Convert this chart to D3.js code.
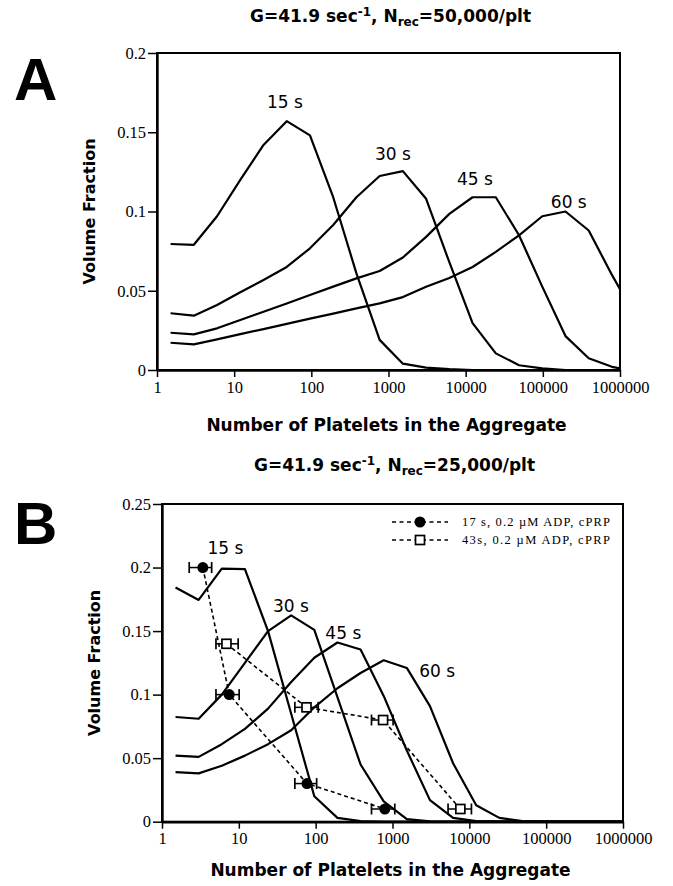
<!DOCTYPE html>
<html><head><meta charset="utf-8">
<script src="https://cdn.jsdelivr.net/npm/d3@7"></script>
<style>body{margin:0;background:#fff}svg{display:block}</style>
</head><body>
<svg id="c" width="673" height="886"></svg>
<script>
// ---------- DATA ----------
const aggSizes = [1.5,3,6,12,24,48,96,192,384,768,1536,3072,6144,12288,24576,49152,98304,196608,393216,786432,1000000];

// Panel A  (Nrec = 50,000/plt)
const A_15s = [0.0795,0.079,0.097,0.12,0.142,0.157,0.148,0.109,0.061,0.019,0.004,0.0015,0.0005,0,0,0,0,0,0,0,0];
const A_30s = [0.0358,0.0343,0.041,0.049,0.0568,0.065,0.0768,0.0915,0.109,0.1224,0.1255,0.108,0.068,0.0296,0.0105,0.003,0.001,0,0,0,0];
const A_45s = [0.0235,0.0225,0.0263,0.0315,0.0368,0.042,0.0473,0.0526,0.0578,0.0625,0.071,0.084,0.0985,0.109,0.109,0.085,0.0526,0.0214,0.0074,0.002,0.001];
const A_60s = [0.0172,0.0162,0.0193,0.0226,0.0258,0.0291,0.0324,0.0356,0.0389,0.042,0.046,0.0525,0.058,0.065,0.0745,0.085,0.097,0.1,0.088,0.06,0.051];

// Panel B  (Nrec = 25,000/plt)
const B_15s = [0.1843,0.1745,0.1992,0.1987,0.15,0.085,0.02,0.003,0.0005,0,0,0,0,0,0,0,0,0,0,0,0];
const B_30s = [0.0824,0.081,0.1,0.125,0.15,0.1624,0.151,0.098,0.045,0.016,0.002,0.0003,0,0,0,0,0,0,0,0,0];
const B_45s = [0.052,0.051,0.061,0.073,0.089,0.11,0.129,0.141,0.1355,0.099,0.056,0.017,0.003,0.0005,0,0,0,0,0,0,0];
const B_60s = [0.039,0.038,0.044,0.052,0.061,0.072,0.09,0.105,0.117,0.127,0.121,0.091,0.046,0.013,0.003,0.0005,0,0,0,0,0];

// Experimental data, panel B
const exp17_N   = [3.4, 7.5, 77, 795];
const exp17_V   = [0.2, 0.1, 0.03, 0.01];
const exp17_lo  = [2.26, 5.04, 53.6, 533];
const exp17_hi  = [4.43, 10.1, 103, 1071];
const exp43_N   = [6.9, 76, 754, 7640];
const exp43_V   = [0.14, 0.09, 0.08, 0.01];
const exp43_lo  = [5.04, 53.6, 533, 5285];
const exp43_hi  = [9.8, 108, 1018, 10650];

const xTicks = [1,10,100,1000,10000,100000,1000000];
const yTicksA = [0,0.05,0.1,0.15,0.2];
const yTicksB = [0,0.05,0.1,0.15,0.2,0.25];
const timeLabels = ["15 s","30 s","45 s","60 s"];
const labelAnchorA = [[45.5,0.1653],[1140,0.1325],[13150,0.1167],[217000,0.1022]];
const labelAnchorB = [[6.7,0.2105],[47.6,0.1647],[229,0.1434],[3825,0.1142]];
const legendText = ["17 s, 0.2 \u00b5M ADP, cPRP","43s, 0.2  \u00b5M ADP, cPRP"];

// ---------- DRAW ----------
const svg = d3.select("#c");
const SANS = "'DejaVu Sans', sans-serif";
const SERIF = "'Liberation Serif', 'Times New Roman', serif";

function panel(cfg){
  const g = svg.append("g");
  const x = d3.scaleLog().domain([1,1e6]).range([cfg.x0, cfg.x1]);
  const y = d3.scaleLinear().domain([0,cfg.ymax]).range([cfg.y0, cfg.y1]);
  const clipId = "clip"+cfg.id;
  svg.append("defs").append("clipPath").attr("id",clipId).append("rect")
    .attr("x",cfg.x0).attr("y",cfg.y1).attr("width",cfg.x1-cfg.x0).attr("height",cfg.y0-cfg.y1);

  // curves
  const line = d3.line().x(d=>x(d[0])).y(d=>y(d[1]));
  const cg = g.append("g").attr("clip-path",`url(#${clipId})`);
  cfg.series.forEach(vals=>{
    cg.append("path").attr("d", line(aggSizes.map((n,i)=>[n,vals[i]])))
      .attr("fill","none").attr("stroke","#000").attr("stroke-width",2.2).attr("stroke-linejoin","round");
  });

  // frame
  g.append("rect").attr("x",cfg.x0).attr("y",cfg.y1).attr("width",cfg.x1-cfg.x0).attr("height",cfg.y0-cfg.y1)
    .attr("fill","none").attr("stroke","#000").attr("stroke-width",2);

  // axes
  const ax = g.append("g").attr("transform",`translate(0,${cfg.y0})`)
    .call(d3.axisBottom(x).tickValues(xTicks).tickFormat(d3.format("d")).tickSize(7).tickPadding(4).tickSizeOuter(0));
  ax.select(".domain").attr("stroke-width",2.4);
  ax.selectAll(".tick line").attr("stroke-width",1.5);
  ax.selectAll("text").attr("font-family",SERIF).attr("font-size",16.5).attr("fill","#000");
  const ay = g.append("g").attr("transform",`translate(${cfg.x0},0)`)
    .call(d3.axisLeft(y).tickValues(cfg.yTicks).tickFormat(d=>String(d)).tickSize(9).tickPadding(2).tickSizeOuter(0));
  ay.select(".domain").attr("stroke-width",2.4);
  ay.selectAll(".tick line").attr("stroke-width",1.5);
  ay.selectAll("text").attr("font-family",SERIF).attr("font-size",16.5).attr("fill","#000");

  // curve labels
  cfg.labelAnchors.forEach((a,i)=>{
    g.append("text").attr("x",x(a[0])).attr("y",y(a[1])).attr("text-anchor","middle")
      .attr("font-family",SANS).attr("font-size",17).text(timeLabels[i]);
  });

  // title
  const t = g.append("text").attr("x",(cfg.x0+cfg.x1)/2+2).attr("y",cfg.titleY).attr("text-anchor","middle")
    .attr("font-family",SANS).attr("font-weight","bold").attr("font-size",17);
  t.append("tspan").text("G=41.9 sec");
  t.append("tspan").attr("dy",-6).attr("font-size",12).text("-1");
  t.append("tspan").attr("dy",6).text(", N");
  t.append("tspan").attr("dy",4).attr("font-size",12).text("rec");
  t.append("tspan").attr("dy",-4).text(cfg.titleTail);

  // panel letter
  g.append("text").attr("x",14).attr("y",cfg.letterY).attr("font-family","'Liberation Sans', Arial, sans-serif")
    .attr("font-weight","bold").attr("font-size",60).text(cfg.letter);

  // axis titles
  g.append("text").attr("x",(cfg.x0+cfg.x1)/2 - 2).attr("y",cfg.xTitleY).attr("text-anchor","middle")
    .attr("font-family",SANS).attr("font-weight","bold").attr("font-size",17).text("Number of Platelets in the Aggregate");
  g.append("text").attr("transform",`translate(${cfg.yTitleX},${(cfg.y0+cfg.y1)/2}) rotate(-90)`).attr("text-anchor","middle")
    .attr("font-family",SANS).attr("font-weight","bold").attr("font-size",16).text("Volume Fraction");

  return {g,x,y};
}

const pA = panel({id:"A", x0:157, x1:620, y0:370, y1:53, ymax:0.2, yTicks:yTicksA,
  series:[A_15s,A_30s,A_45s,A_60s], labelAnchors:labelAnchorA,
  titleY:22, titleTail:"=50,000/plt", letter:"A", letterY:100, xTitleY:431, yTitleX:95});
const pB = panel({id:"B", x0:162, x1:623, y0:821.7, y1:504, ymax:0.25, yTicks:yTicksB,
  series:[B_15s,B_30s,B_45s,B_60s], labelAnchors:labelAnchorB,
  titleY:471, titleTail:"=25,000/plt", letter:"B", letterY:544, xTitleY:876, yTitleX:100});

// experimental series
function expSeries(p, N, V, lo, hi, marker){
  const {g,x,y} = p;
  const pts = N.map((n,i)=>[n,V[i]]);
  g.append("path").attr("d", d3.line().x(d=>x(d[0])).y(d=>y(d[1]))(pts))
    .attr("fill","none").attr("stroke","#000").attr("stroke-width",1.6).attr("stroke-dasharray","4,3");
  pts.forEach((d,i)=>{
    const cy = y(d[1]);
    g.append("line").attr("x1",x(lo[i])).attr("x2",x(hi[i])).attr("y1",cy).attr("y2",cy).attr("stroke","#000").attr("stroke-width",1.5);
    [lo[i],hi[i]].forEach(v=>{
      g.append("line").attr("x1",x(v)).attr("x2",x(v)).attr("y1",cy-5.5).attr("y2",cy+5.5).attr("stroke","#000").attr("stroke-width",1.7);
    });
    drawMarker(g, x(d[0]), cy, marker);
  });
}
function drawMarker(g, cx, cy, marker){
  if(marker==="circle"){
    g.append("circle").attr("cx",cx).attr("cy",cy).attr("r",5.5).attr("fill","#000");
  } else {
    g.append("rect").attr("x",cx-4.5).attr("y",cy-4.5).attr("width",9).attr("height",9)
      .attr("fill","#fff").attr("stroke","#000").attr("stroke-width",1.7);
  }
}
expSeries(pB, exp17_N, exp17_V, exp17_lo, exp17_hi, "circle");
expSeries(pB, exp43_N, exp43_V, exp43_lo, exp43_hi, "square");

// legend
const legY = [522, 540];
["circle","square"].forEach((m,i)=>{
  const gl = svg.append("g");
  gl.append("line").attr("x1",392).attr("x2",448).attr("y1",legY[i]).attr("y2",legY[i])
    .attr("stroke","#000").attr("stroke-width",1.6).attr("stroke-dasharray","4,3.5");
  drawMarker(gl, 420, legY[i], m);
  gl.append("text").attr("x",462).attr("y",legY[i]+4).attr("font-family",SERIF).attr("font-size",12.5)
    .attr("textLength",148).attr("lengthAdjust","spacing").text(legendText[i]);
});
</script>
</body></html>
